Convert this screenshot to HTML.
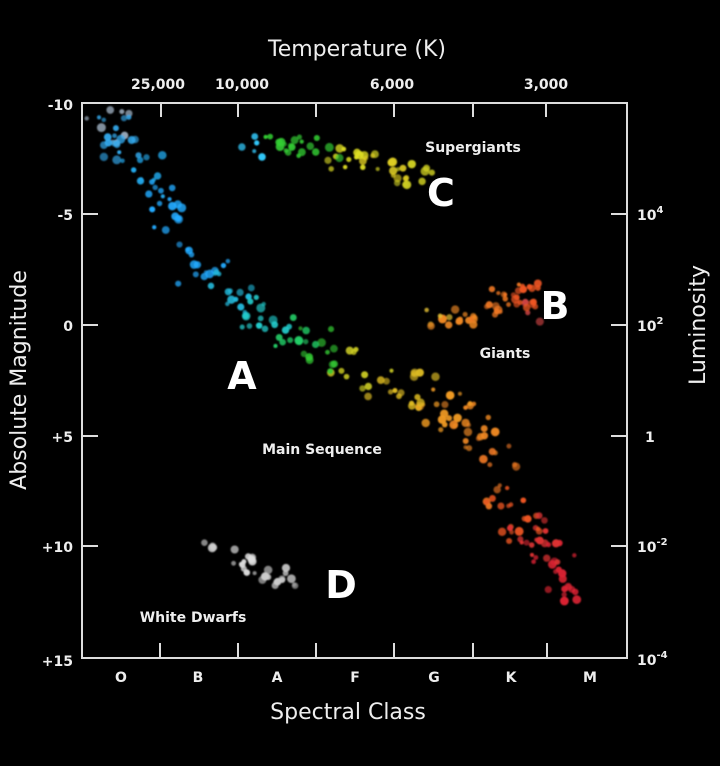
<!DOCTYPE html>
<html><head><style>
html,body{margin:0;padding:0;background:#000;}
svg{display:block;}
text{font-family:"DejaVu Sans","Liberation Sans",sans-serif;fill:#eee;}
</style></head><body>
<svg id="s" width="720" height="766" viewBox="0 0 720 766" xmlns="http://www.w3.org/2000/svg">
<defs><filter id="b" x="-1" y="-1" width="3" height="3"><feGaussianBlur stdDeviation="0.8"/></filter></defs>
<rect width="720" height="766" fill="#000"/>
<g id="stars" filter="url(#b)"></g>
<g stroke="#ddd" stroke-width="2" fill="none">
<path d="M82,103 H627 V658 H82 Z"/>
<path d="M161,103v14M238,103v14M316,103v14M394,103v14M473,103v14M546,103v14"/>
<path d="M160,658v-15M238,658v-15M316,658v-15M394,658v-15M473,658v-15M547,658v-15"/>
<path d="M82,214h16M82,325h16M82,436h16M82,546h16"/>
<path d="M627,214h-16M627,325h-16M627,436h-16M627,546h-16"/>
</g>
<text x="357" y="56" font-size="22" text-anchor="middle">Temperature (K)</text>
<g font-size="14" font-weight="bold" text-anchor="middle">
<text x="158" y="89">25,000</text><text x="242" y="89">10,000</text>
<text x="392" y="89">6,000</text><text x="546" y="89">3,000</text>
</g>
<g font-size="14" font-weight="bold" text-anchor="end">
<text x="73" y="110">-10</text><text x="73" y="220">-5</text><text x="73" y="331">0</text>
<text x="73" y="442">+5</text><text x="73" y="552">+10</text><text x="73" y="666">+15</text>
</g>
<g font-size="14" font-weight="bold">
<text x="637" y="220">10<tspan dy="-7" font-size="10">4</tspan></text>
<text x="637" y="331">10<tspan dy="-7" font-size="10">2</tspan></text>
<text x="645" y="442">1</text>
<text x="637" y="552">10<tspan dy="-7" font-size="10">-2</tspan></text>
<text x="637" y="665">10<tspan dy="-7" font-size="10">-4</tspan></text>
</g>
<g font-size="14" font-weight="bold" text-anchor="middle">
<text x="121" y="682">O</text><text x="198" y="682">B</text><text x="277" y="682">A</text>
<text x="355" y="682">F</text><text x="434" y="682">G</text><text x="511" y="682">K</text><text x="590" y="682">M</text>
</g>
<text x="348" y="719" font-size="22" text-anchor="middle">Spectral Class</text>
<text transform="translate(26,380) rotate(-90)" font-size="22" text-anchor="middle">Absolute Magnitude</text>
<text transform="translate(705,325) rotate(-90)" font-size="22" text-anchor="middle">Luminosity</text>
<g font-size="14" font-weight="bold" text-anchor="middle">
<text x="473" y="152">Supergiants</text><text x="505" y="358">Giants</text>
<text x="322" y="454">Main Sequence</text><text x="193" y="622">White Dwarfs</text>
</g>
<g font-size="38" font-weight="bold" text-anchor="middle" fill="#fff">
<text x="242" y="389" style="fill:#fff">A</text><text x="555" y="319" style="fill:#fff">B</text>
<text x="441" y="206" style="fill:#fff">C</text><text x="341" y="598" style="fill:#fff">D</text>
</g>
</svg>
<script>
var seed=7;function r(){seed=(seed*16807)%2147483647;return seed/2147483647;}
var g=document.getElementById('stars'),ns='http://www.w3.org/2000/svg';
function star(x,y,c,rad){var e=document.createElementNS(ns,'circle');e.setAttribute('cx',x);e.setAttribute('cy',y);e.setAttribute('r',rad);e.setAttribute('fill',c);e.setAttribute('opacity',0.6+r()*0.4);g.appendChild(e);}
function path(pts,n,spread){
 for(var i=0;i<n;i++){var t=r()*(pts.length-1),k=Math.floor(t),f=t-k;var a=pts[k],b=pts[Math.min(k+1,pts.length-1)];
  var x=a[0]+(b[0]-a[0])*f+(r()-0.5)*spread*2,y=a[1]+(b[1]-a[1])*f+(r()-0.5)*spread*2;
  star(x,y,f<0.5?a[2]:b[2],2+r()*2.5);}
}
path([[105,120,'#9ab'],[125,145,'#3ae'],[150,170,'#2ae'],[165,200,'#2af'],[175,245,'#2af'],[200,275,'#2af'],[235,295,'#2bd'],[265,320,'#2cc'],[295,335,'#2c6'],[320,352,'#3c3'],[350,370,'#cc2'],[400,388,'#db2'],[440,405,'#e92'],[470,430,'#e82'],[495,470,'#e72'],[515,510,'#e52'],[535,540,'#d33'],[555,570,'#d23'],[570,610,'#d23']],240,20);
path([[250,150,'#3cf'],[280,145,'#3c3'],[310,145,'#3c3'],[350,165,'#dd2'],[390,165,'#dc2'],[420,180,'#cc2']],60,12);
path([[425,310,'#db3'],[460,315,'#e82'],[495,300,'#e72'],[525,290,'#e52'],[530,315,'#c44']],55,14);
path([[210,545,'#ccc'],[240,560,'#ddd'],[270,575,'#ccc'],[310,580,'#aaa']],30,10);
</script>
</body></html>
